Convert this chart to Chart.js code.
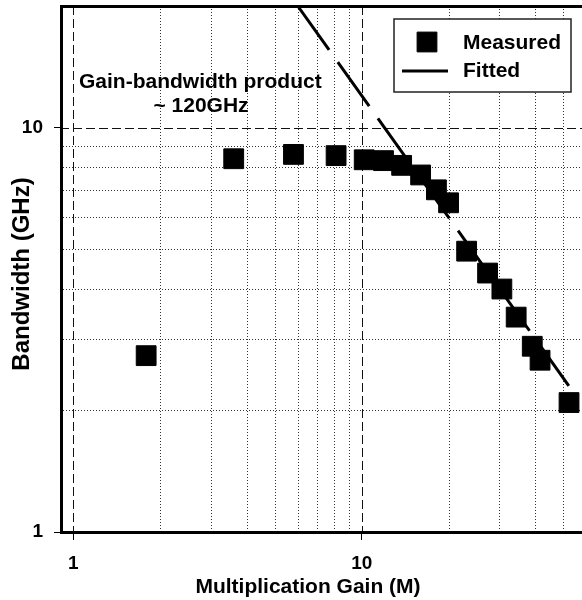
<!DOCTYPE html>
<html>
<head>
<meta charset="utf-8">
<script src="https://cdn.jsdelivr.net/npm/chart.js@4.4.1/dist/chart.umd.min.js"></script>
<style>
  html, body { margin: 0; padding: 0; background: #fff; }
  #wrap { width: 582px; height: 600px; }
</style>
</head>
<body>
<div id="wrap"><canvas id="chart" width="582" height="600"></canvas></div>
<script>
// measured points (gain M, bandwidth GHz)
const gain = [1.79, 3.6, 5.8, 8.15, 10.2, 11.9, 13.75, 16.0, 18.15, 20.0, 23.1, 27.3, 30.6, 34.3, 39.0, 41.5, 52.3];
const bandwidth = [2.73, 8.38, 8.59, 8.53, 8.33, 8.29, 8.07, 7.64, 7.02, 6.52, 4.95, 4.37, 3.99, 3.4, 2.88, 2.66, 2.09];

// fitted line, GBP ~ 120 GHz
const fitGain = [6, 52.2];
const fitBandwidth = [20, 2.3];

const xTicks = [1, 2, 3, 4, 5, 6, 7, 8, 9, 10, 20, 30, 40, 50];
const yTicks = [1, 2, 3, 4, 5, 6, 7, 8, 9, 10, 20];
const labelled = [1, 10];

const FONT = "'Liberation Sans', Arial, sans-serif";

// grid, frame, legend and texts drawn by hand
const decor = {
  id: 'decor',
  beforeDatasetsDraw(chart) {
    const { ctx, chartArea: a, scales: { x, y } } = chart;
    ctx.save();
    ctx.lineWidth = 1;
    xTicks.forEach(v => {
      const major = labelled.includes(v);
      const px = Math.round(x.getPixelForValue(v)) + 0.5;
      ctx.setLineDash(major ? [9, 4] : [1, 2]);
      ctx.strokeStyle = major ? '#111' : '#333';
      ctx.beginPath();
      ctx.moveTo(px, a.top);
      ctx.lineTo(px, a.bottom);
      ctx.stroke();
    });
    yTicks.forEach(v => {
      if (v === 1 || v === 20) return;
      const major = labelled.includes(v);
      const py = Math.round(y.getPixelForValue(v)) + 0.5;
      ctx.setLineDash(major ? [9, 4] : [1, 2]);
      ctx.strokeStyle = major ? '#111' : '#333';
      ctx.beginPath();
      ctx.moveTo(a.left, py);
      ctx.lineTo(a.right, py);
      ctx.stroke();
    });
    ctx.restore();
  },
  afterDatasetsDraw(chart) {
    const { ctx, chartArea: a } = chart;
    ctx.save();

    // frame
    ctx.setLineDash([]);
    ctx.strokeStyle = '#000';
    ctx.lineWidth = 3;
    ctx.beginPath();
    ctx.moveTo(a.right, a.top + 0.5);
    ctx.lineTo(a.left + 1.5, a.top + 0.5);
    ctx.lineTo(a.left + 1.5, a.bottom + 0.5);
    ctx.lineTo(a.right, a.bottom + 0.5);
    ctx.stroke();

    // legend box
    const bx = a.right - 188, by = a.top + 13, bw = 177, bh = 73;
    ctx.fillStyle = '#fff';
    ctx.fillRect(bx, by, bw, bh);
    ctx.lineWidth = 1.5;
    ctx.strokeStyle = '#222';
    ctx.strokeRect(bx, by, bw, bh);

    const ds = chart.data.datasets;
    ctx.font = 'bold 21px ' + FONT;
    ctx.textAlign = 'left';
    ctx.textBaseline = 'middle';

    ctx.fillStyle = ds[0].backgroundColor;
    ctx.strokeStyle = ds[0].borderColor;
    ctx.lineWidth = 1;
    Chart.helpers.drawPoint(ctx, { pointStyle: 'rect', radius: ds[0].pointRadius, rotation: 0, borderWidth: 1 }, bx + 33, by + 23);
    ctx.fillStyle = '#000';
    ctx.fillText(ds[0].label, bx + 69, by + 24);

    ctx.strokeStyle = ds[1].borderColor;
    ctx.lineWidth = ds[1].borderWidth;
    ctx.beginPath();
    ctx.moveTo(bx + 8, by + 52);
    ctx.lineTo(bx + 54, by + 52);
    ctx.stroke();
    ctx.fillText(ds[1].label, bx + 69, by + 52);

    // annotation
    ctx.textBaseline = 'alphabetic';
    ctx.fillText('Gain-bandwidth product', 79, 88);
    ctx.textAlign = 'center';
    ctx.fillText('~ 120GHz', 201, 112);

    // axis titles
    ctx.fillText('Multiplication Gain (M)', 308, 593);
    ctx.translate(22, 274);
    ctx.rotate(-Math.PI / 2);
    ctx.font = 'bold 24px ' + FONT;
    ctx.textBaseline = 'middle';
    ctx.fillText('Bandwidth (GHz)', 0, 0);

    ctx.restore();
  }
};

const tickColor = ctx => labelled.includes(ctx.tick && ctx.tick.value) ? '#000' : 'rgba(0,0,0,0)';
const tickLabel = v => labelled.includes(v) ? String(v) : '';

new Chart(document.getElementById('chart'), {
  type: 'scatter',
  data: {
    datasets: [
      {
        label: 'Measured',
        data: gain.map((g, i) => ({ x: g, y: bandwidth[i] })),
        pointStyle: 'rect',
        pointRadius: 14,
        pointHoverRadius: 14,
        backgroundColor: '#000',
        borderColor: '#000',
        borderWidth: 1,
        order: 1,
      },
      {
        label: 'Fitted',
        type: 'line',
        data: fitGain.map((g, i) => ({ x: g, y: fitBandwidth[i] })),
        borderColor: '#000',
        borderWidth: 3,
        borderDash: [54, 15],
        pointRadius: 0,
        fill: false,
        order: 2,
      },
    ],
  },
  options: {
    responsive: false,
    devicePixelRatio: 1,
    animation: false,
    layout: { autoPadding: false, padding: { top: 6, right: 0, left: 0, bottom: 0 } },
    plugins: {
      legend: { display: false },
      tooltip: { enabled: false },
    },
    scales: {
      x: {
        type: 'logarithmic',
        min: 0.9,
        max: 58,
        afterBuildTicks: s => { s.ticks = xTicks.map(v => ({ value: v })); },
        afterFit: s => { s.height = 68; s.paddingLeft = 0; s.paddingRight = 0; },
        border: { display: false },
        grid: { drawOnChartArea: false, drawTicks: true, tickLength: 8, tickColor: tickColor, tickWidth: 1 },
        ticks: {
          autoSkip: false,
          maxRotation: 0,
          padding: 12,
          color: '#000',
          font: { family: FONT, size: 19, weight: 'bold' },
          callback: tickLabel,
        },
      },
      y: {
        type: 'logarithmic',
        min: 1,
        max: 20,
        afterBuildTicks: s => { s.ticks = yTicks.map(v => ({ value: v })); },
        afterFit: s => { s.width = 60; s.paddingTop = 0; s.paddingBottom = 0; },
        border: { display: false },
        grid: { drawOnChartArea: false, drawTicks: true, tickLength: 6, tickColor: tickColor, tickWidth: 1 },
        ticks: {
          autoSkip: false,
          padding: 11,
          color: '#000',
          font: { family: FONT, size: 19, weight: 'bold' },
          callback: tickLabel,
        },
      },
    },
  },
  plugins: [decor],
});
</script>
</body>
</html>
